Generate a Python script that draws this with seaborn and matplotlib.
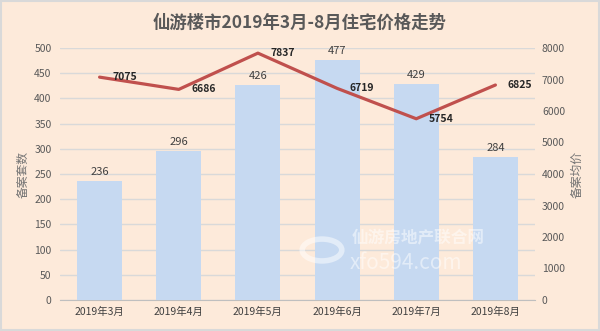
import matplotlib
matplotlib.use("Agg")
import matplotlib.pyplot as plt
import seaborn as sns
import pandas as pd
from matplotlib.patches import Rectangle, Circle

months = ["2019年3月", "2019年4月", "2019年5月", "2019年6月", "2019年7月", "2019年8月"]
counts = [236, 296, 426, 477, 429, 284]
prices = [7075, 6686, 7837, 6719, 5754, 6825]
left_ticks = list(range(0, 501, 50))
right_ticks = list(range(0, 8001, 1000))
title = "仙游楼市2019年3月-8月住宅价格走势"

sns.set_style("white")
plt.rcParams['font.family'] = ['Noto Sans CJK SC', 'DejaVu Sans']

bg = "#FDEADA"
bar_c = "#C6D9F1"
line_c = "#C0504D"
txt_c = "#595959"

df = pd.DataFrame({"month": months, "count": counts, "price": prices})

fig = plt.figure(figsize=(6, 3.31), dpi=100)
fig.patch.set_facecolor(bg)
fig.patches.append(Rectangle((0.002, 0.003), 0.996, 0.994, transform=fig.transFigure,
                             fill=False, edgecolor="#D9D9D9", linewidth=1.5))

ax = fig.add_axes([60/600, 31/331, 475/600, 252/331])
ax.set_facecolor(bg)
ax2 = ax.twinx()
ax.set_zorder(1)
ax2.set_zorder(2)
ax.patch.set_visible(True)
ax2.patch.set_visible(False)

sns.barplot(data=df, x="month", y="count", color=bar_c, width=0.57, ax=ax,
            saturation=1, zorder=3, edgecolor="none", linewidth=0)
ax.set_xlim(-0.5, 5.5)
ax.set_ylim(0, 500)
ax.set_yticks(left_ticks)
ax.yaxis.grid(True, color="#D9D9D9", linewidth=1)
ax.set_axisbelow(True)
for s in ["top", "right", "left"]:
    ax.spines[s].set_visible(False)
ax.spines["bottom"].set_color("#BFBFBF")
ax.tick_params(axis="y", length=0, labelsize=7.5, labelcolor=txt_c, pad=6)
ax.tick_params(axis="x", length=0, labelsize=7.5, labelcolor="#404040", pad=5)
ax.set_xlabel("")
ax.set_ylabel("备案套数", fontsize=8.5, color="#737373", labelpad=3)
ax.set_xticks([i - 0.5 for i in range(1, 6)], minor=True)
ax.tick_params(axis="x", which="minor", length=4, color="#BFBFBF", direction="out")

for i, v in enumerate(counts):
    ax.text(i, v + 8, str(v), ha="center", va="bottom", fontsize=8, color="#404040", zorder=5)

sns.lineplot(data=df, x="month", y="price", color=line_c, linewidth=2.3, ax=ax2, sort=False)
ax2.set_ylim(0, 8000)
ax2.set_yticks(right_ticks)
for s in ["top", "right", "left", "bottom"]:
    ax2.spines[s].set_visible(False)
ax2.tick_params(axis="y", length=0, labelsize=7.5, labelcolor=txt_c, pad=5)
ax2.set_ylabel("备案均价", fontsize=8.5, color="#737373", labelpad=4)
ax2.set_xlabel("")
for i, v in enumerate(prices):
    ax2.annotate(str(v), (i, v), xytext=(9, 0), textcoords="offset points",
                 ha="left", va="center", fontsize=7.5, fontweight="bold", color="#262626")

fig.text(0.5, 0.93, title, ha="center", va="center", fontsize=12.5, fontweight="bold", color=txt_c)

# watermark
fig.patches.append(Circle((322/600, 1 - 250/331), 0.033, transform=fig.transFigure,
                          fill=False, edgecolor="white", linewidth=4, alpha=0.5, zorder=10))
fig.text(352/600, 1 - 238/331, "仙游房地产联合网", ha="left", va="center", fontsize=12,
         fontweight="bold", color="white", alpha=0.5, zorder=10)
fig.text(350/600, 1 - 263/331, "xfo594.com", ha="left", va="center", fontsize=15,
         color="white", alpha=0.5, zorder=10)

fig.savefig("out.png", dpi=100, facecolor=bg)
